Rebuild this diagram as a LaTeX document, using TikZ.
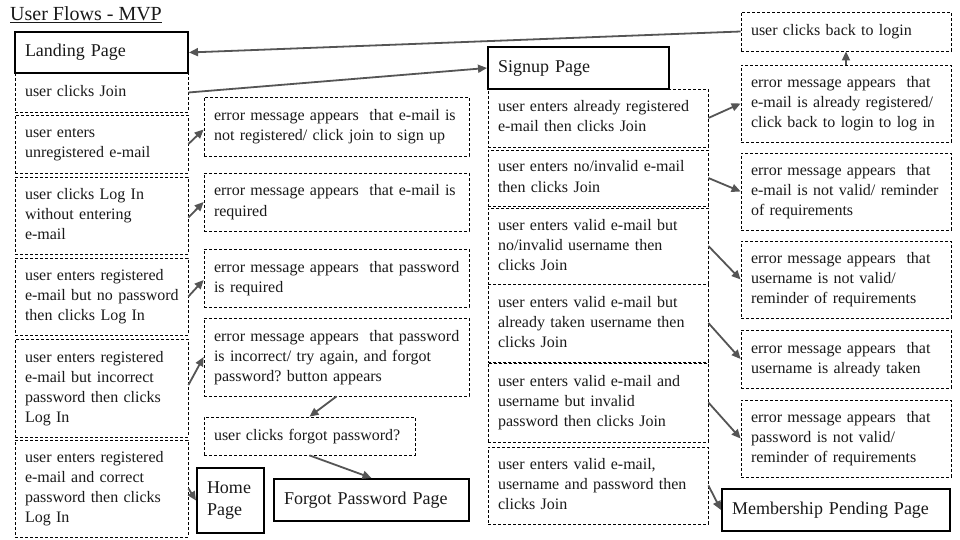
\documentclass[tikz,border=0pt]{standalone}
\usepackage{fontspec}
\setmainfont{Liberation Serif}
\usetikzlibrary{arrows.meta}
\definecolor{arrowgray}{HTML}{555555}
\definecolor{txt}{HTML}{1A1A1A}
\frenchspacing
\newcommand\mybox[7]{%
  \pgfmathsetmacro\bw{#4-#2}%
  \pgfmathsetmacro\bh{#5-#3}%
  \pgfmathsetmacro\tw{#4-#2-20}%
  \pgfmathsetmacro\cx{(#2+#4)/2}%
  \pgfmathsetmacro\cy{(#3+#5)/2}%
  \node[#6, minimum width=\bw pt, minimum height=\bh pt, text width=\tw pt] (#1) at (\cx,\cy) {\begin{tabular}{@{}l@{}}#7\end{tabular}};}
\begin{document}
\begin{tikzpicture}[x=1pt,y=-1pt,
  dbox/.style={draw=black, dash pattern=on 3pt off 2pt, line width=0.8pt, inner xsep=10pt, inner ysep=0pt, align=left, text=txt, font=\fontsize{16}{20}\selectfont},
  pbox/.style={draw=black, line width=2pt, inner xsep=10pt, inner ysep=0pt, align=left, text=txt, font=\fontsize{18}{22}\selectfont},
  conn/.style={draw=arrowgray, line width=1.8pt, -{Triangle[length=9pt,width=8pt]}}]
\useasboundingbox[fill=white] (0,0) rectangle (960,540);

\node[font=\fontsize{20}{24}\selectfont, text=txt, anchor=base west, inner sep=0pt] (title) at (10,21) {\underline{User Flows - MVP}};

% left column
\mybox{land}{15}{32}{188}{73}{pbox}{Landing Page}
\mybox{join}{15}{73}{188}{112}{dbox}{user clicks Join}
\mybox{unreg}{15}{115}{188}{173}{dbox}{user enters\\unregistered e-mail}
\mybox{nomail}{15}{177}{188}{254}{dbox}{user clicks Log In\\without entering\\e-mail}
\mybox{nopw}{15}{258}{188}{335}{dbox}{user enters registered\\e-mail but no password\\then clicks Log In}
\mybox{badpw}{15}{339}{188}{437}{dbox}{user enters registered\\e-mail but incorrect\\password then clicks\\Log In}
\mybox{goodpw}{15}{440}{188}{537}{dbox}{user enters registered\\e-mail and correct\\password then clicks\\Log In}

% middle column
\mybox{err1}{204}{97}{469}{156}{dbox}{error message appears~ that e-mail is\\not registered/ click join to sign up}
\mybox{err2}{204}{173}{469}{231}{dbox}{error message appears~ that e-mail is\\required}
\mybox{err3}{204}{249}{469}{307}{dbox}{error message appears~ that password\\is required}
\mybox{err4}{204}{318}{469}{396}{dbox}{error message appears~ that password\\is incorrect/ try again, and forgot\\password? button appears}
\mybox{forgot}{204}{417}{415}{455}{dbox}{user clicks forgot password?}
\mybox{home}{197}{468}{264}{533}{pbox}{Home\\Page}
\mybox{fpp}{274}{479}{469}{521}{pbox}{Forgot Password Page}

% signup column
\mybox{signup}{488}{47}{669}{89}{pbox}{Signup Page}
\mybox{s1}{488}{89}{708}{147}{dbox}{user enters already registered\\e-mail then clicks Join}
\mybox{s2}{488}{150}{708}{206}{dbox}{user enters no/invalid e-mail\\then clicks Join}
\mybox{s3}{488}{208}{708}{284}{dbox}{user enters valid e-mail but\\no/invalid username then\\clicks Join}
\mybox{s4}{488}{284}{708}{362}{dbox}{user enters valid e-mail but\\already taken username then\\clicks Join}
\mybox{s5}{488}{363}{708}{442}{dbox}{user enters valid e-mail and\\username but invalid\\password then clicks Join}
\mybox{s6}{488}{447}{708}{524}{dbox}{user enters valid e-mail,\\username and password then\\clicks Join}

% right column
\mybox{back}{741}{12}{951}{51}{dbox}{user clicks back to login}
\mybox{r1}{741}{65}{951}{142}{dbox}{error message appears~ that\\e-mail is already registered/\\click back to login to log in}
\mybox{r2}{741}{153}{951}{230}{dbox}{error message appears~ that\\e-mail is not valid/ reminder\\of requirements}
\mybox{r3}{741}{241}{951}{318}{dbox}{error message appears~ that\\username is not valid/\\reminder of requirements}
\mybox{r4}{741}{330}{951}{388}{dbox}{error message appears~ that\\username is already taken}
\mybox{r5}{741}{400}{951}{477}{dbox}{error message appears~ that\\password is not valid/\\reminder of requirements}
\mybox{mpp}{722}{489}{950}{531}{pbox}{Membership Pending Page}

% connectors
\draw[conn] (back.west) -- (land.east);
\draw[conn] (join.east) -- (signup.west);
\draw[conn] (unreg.east) -- ([yshift=-3pt]err1.west);
\draw[conn] ([yshift=-2pt]nomail.east) -- (err2.west);
\draw[conn] (nopw.east) -- ([yshift=-2pt]err3.west);
\draw[conn] ([yshift=3pt]badpw.east) -- (err4.west);
\draw[conn] (goodpw.east) -- (home.west);
\draw[conn] (err4.south) -- (forgot.north);
\draw[conn] (forgot.south) -- (fpp.north);
\draw[conn] (r1.north) -- (back.south);
\draw[conn] (s1.east) -- (r1.west);
\draw[conn] (s2.east) -- (r2.west);
\draw[conn] (s3.east) -- (r3.west);
\draw[conn] (s4.east) -- (r4.west);
\draw[conn] (s5.east) -- (r5.west);
\draw[conn] (s6.east) -- (mpp.west);
\end{tikzpicture}
\end{document}
